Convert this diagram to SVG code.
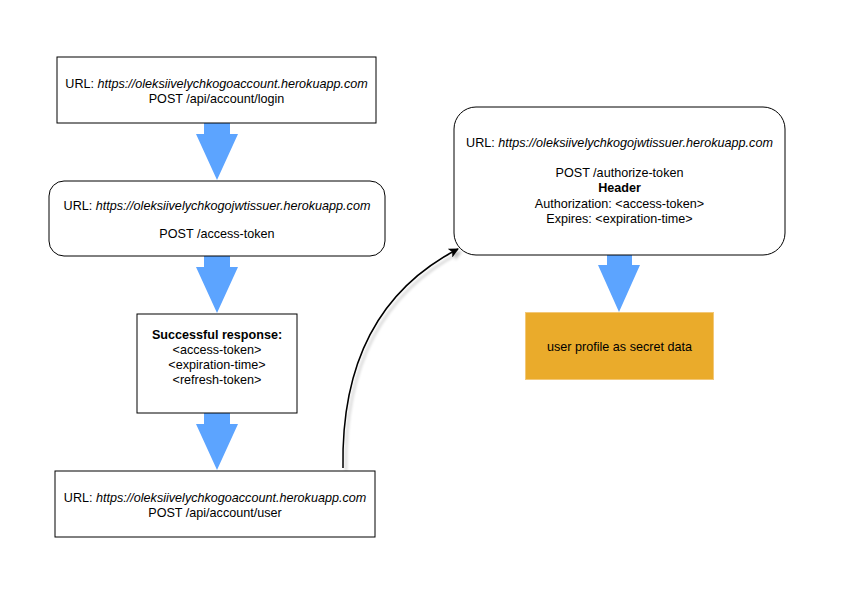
<svg xmlns="http://www.w3.org/2000/svg" width="842" height="595" viewBox="0 0 842 595">
<style>
text{font-family:"Liberation Sans",Arial,sans-serif;font-size:12.6px;fill:#000;text-anchor:middle}
.b{font-weight:bold}
.i{font-style:italic}
.box{fill:#fff;stroke:#000;stroke-width:1}
.blue{fill:#5CA4FF;stroke:none}
</style>
<defs>
<filter id="sh" x="-20%" y="-20%" width="150%" height="150%">
<feGaussianBlur in="SourceAlpha" stdDeviation="1.6"/>
<feOffset dx="3" dy="3" result="o"/>
<feComponentTransfer><feFuncA type="linear" slope="0.25"/></feComponentTransfer>
<feMerge><feMergeNode/><feMergeNode in="SourceGraphic"/></feMerge>
</filter>
<marker id="ah" viewBox="0 0 10 10" refX="9" refY="5" markerWidth="10" markerHeight="10" markerUnits="userSpaceOnUse" orient="auto">
<path d="M0,0 L10,5 L0,10 L2.5,5 Z" fill="#000"/>
</marker>
</defs>
<rect width="842" height="595" fill="#fff"/>
<g id="connectors">
<path class="blue" d="M204,123 H230 V134 H238 L217,180 L196,134 H204 Z"/>
<path class="blue" d="M204,256 H230 V267 H238 L217,313 L196,267 H204 Z"/>
<path class="blue" d="M204,413 H230 V424 H238 L217,470 L196,424 H204 Z"/>
<path class="blue" d="M607,255 H632 V265 H640 L619,312 L598,265 H607 Z"/>
<path d="M343,468 Q340,310 458,249" fill="none" stroke="#000" stroke-width="1.5" marker-end="url(#ah)" filter="url(#sh)"/>
</g>
<g id="login">
<rect class="box" x="57" y="57" width="319" height="66"/>
<text x="216.5" y="88">URL: <tspan class="i">https://oleksiivelychkogoaccount.herokuapp.com</tspan></text>
<text x="216.5" y="103">POST /api/account/login</text>
</g>
<g id="access-token">
<rect class="box" x="49" y="181" width="336" height="75" rx="15" ry="15"/>
<text x="217" y="210">URL: <tspan class="i">https://oleksiivelychkogojwtissuer.herokuapp.com</tspan></text>
<text x="217" y="238">POST /access-token</text>
</g>
<g id="response">
<rect class="box" x="137" y="314" width="160" height="99"/>
<text x="217" y="339" class="b">Successful response:</text>
<text x="217" y="354">&lt;access-token&gt;</text>
<text x="217" y="369">&lt;expiration-time&gt;</text>
<text x="217" y="384">&lt;refresh-token&gt;</text>
</g>
<g id="user">
<rect class="box" x="55" y="471" width="320" height="66"/>
<text x="215" y="502">URL: <tspan class="i">https://oleksiivelychkogoaccount.herokuapp.com</tspan></text>
<text x="215" y="517">POST /api/account/user</text>
</g>
<g id="authorize">
<rect class="box" x="454" y="107" width="331" height="148" rx="22" ry="22"/>
<text x="619.5" y="147">URL: <tspan class="i">https://oleksiivelychkogojwtissuer.herokuapp.com</tspan></text>
<text x="619.5" y="177">POST /authorize-token</text>
<text x="619.5" y="192" class="b">Header</text>
<text x="619.5" y="208">Authorization: &lt;access-token&gt;</text>
<text x="619.5" y="223">Expires: &lt;expiration-time&gt;</text>
</g>
<g id="secret">
<rect x="525.5" y="312.5" width="188" height="67" fill="#EAAB2B" stroke="#F3C878" stroke-width="1"/>
<text x="619.5" y="351">user profile as secret data</text>
</g>
</svg>
